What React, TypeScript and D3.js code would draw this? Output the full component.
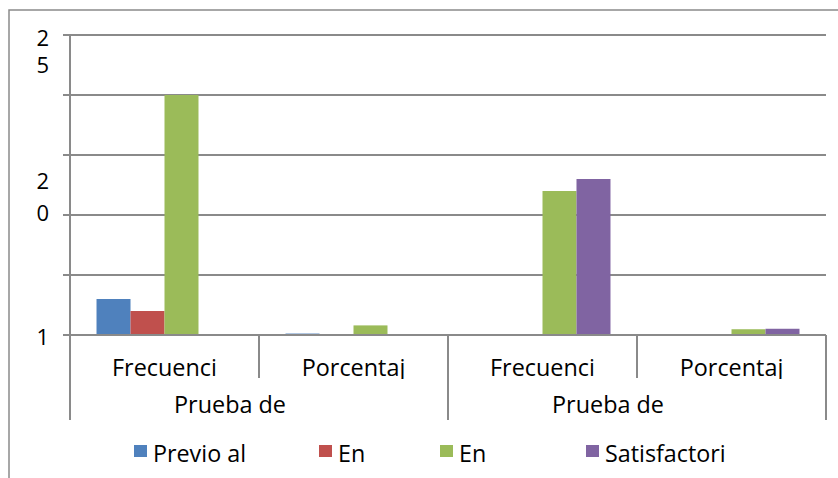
import React, { useEffect, useRef } from "react";
import * as d3 from "d3";

const categories = ["Frecuenci", "Porcentaj", "Frecuenci", "Porcentaj"];
const groups = ["Prueba de", "Prueba de"];
const seriesNames = ["Previo al", "En", "En", "Satisfactori"];
const previoAl = [3, 0.12, 0, 0];
const enProceso = [2, 0.08, 0, 0];
const enLogro = [20, 0.8, 12, 0.48];
const satisfactorio = [0, 0, 13, 0.52];
const yTicks = [0, 5, 10, 15, 20, 25];
// what Excel actually shows next to the ticks (wrapped / clipped)
const yTickLabels = [
  { value: 25, lines: ["2", "5"] },
  { value: 10, lines: ["2", "0"] },
  { value: 0, lines: ["1"] },
];

const colors = ["#4f81bd", "#c0504d", "#9bbb59", "#8064a2"];

const App = () => {
  const ref = useRef<SVGSVGElement>(null);
  const width = 838;
  const height = 478;

  useEffect(() => {
    const svg = d3.select(ref.current);
    svg.selectAll("*").remove();

    const font = "'Open Sans', sans-serif";
    const grid = "#8a8a8a";
    const left = 70;
    const right = 826;
    const top = 35;
    const bottom = 335;

    const values = [previoAl, enProceso, enLogro, satisfactorio];

    const y = d3.scaleLinear().domain([0, 25]).range([bottom, top]);
    const x0 = d3
      .scaleBand<number>()
      .domain(categories.map((_, i) => i))
      .range([left, right])
      .padding(0);
    const x1 = d3
      .scaleBand<number>()
      .domain(seriesNames.map((_, i) => i))
      .range([0, x0.bandwidth()])
      .paddingInner(0)
      .paddingOuter(0.78);
    const xg = d3
      .scaleBand<number>()
      .domain(groups.map((_, i) => i))
      .range([left, right]);

    // outer chart border (clipped by the window)
    svg
      .append("path")
      .attr("d", `M9,${height + 2}V10H${width + 2}`)
      .attr("fill", "none")
      .attr("stroke", grid)
      .attr("stroke-width", 1.5);

    // gridlines + tick marks
    svg
      .append("g")
      .selectAll("line")
      .data(yTicks)
      .join("line")
      .attr("x1", left - 7)
      .attr("x2", right)
      .attr("y1", (d) => y(d))
      .attr("y2", (d) => y(d))
      .attr("stroke", grid)
      .attr("stroke-width", 2);

    // y labels
    const yl = svg.append("g").attr("font-family", font).attr("font-size", 22).attr("fill", "#000");
    yTickLabels.forEach((t) => {
      const offsets = t.lines.length === 1 ? [10] : t.value === 25 ? [11, 38] : [-26, 6];
      t.lines.forEach((ln, i) => {
        yl.append("text")
          .attr("x", 49)
          .attr("y", y(t.value) + offsets[i])
          .attr("text-anchor", "end")
          .text(ln);
      });
    });

    // bars
    const bars = svg.append("g");
    categories.forEach((_, ci) => {
      values.forEach((vals, si) => {
        const v = vals[ci];
        if (!v) return;
        bars
          .append("rect")
          .attr("x", (x0(ci) ?? 0) + (x1(si) ?? 0))
          .attr("y", y(v))
          .attr("width", x1.bandwidth())
          .attr("height", y(0) - y(v))
          .attr("fill", colors[si]);
      });
    });

    // axes lines
    svg
      .append("line")
      .attr("x1", left)
      .attr("x2", left)
      .attr("y1", top)
      .attr("y2", 420)
      .attr("stroke", grid)
      .attr("stroke-width", 2);

    svg
      .append("line")
      .attr("x1", left - 7)
      .attr("x2", right)
      .attr("y1", bottom)
      .attr("y2", bottom)
      .attr("stroke", grid)
      .attr("stroke-width", 2);

    // category separators
    const seps = svg.append("g");
    d3.range(categories.length + 1).forEach((i) => {
      const xx = left + i * x0.step();
      const isGroup = i % 2 === 0;
      seps
        .append("line")
        .attr("x1", xx)
        .attr("x2", xx)
        .attr("y1", bottom)
        .attr("y2", isGroup ? 420 : 378)
        .attr("stroke", grid)
        .attr("stroke-width", 2);
    });

    // category labels, clipped like the original
    svg
      .append("clipPath")
      .attr("id", "catclip")
      .append("rect")
      .attr("x", left)
      .attr("y", bottom)
      .attr("width", right - left)
      .attr("height", 44);

    svg
      .append("g")
      .attr("clip-path", "url(#catclip)")
      .attr("font-family", font)
      .attr("font-size", 23.4)
      .selectAll("text")
      .data(categories)
      .join("text")
      .attr("x", (_, i) => (x0(i) ?? 0) + x0.bandwidth() / 2)
      .attr("y", 376)
      .attr("text-anchor", "middle")
      .text((d) => d);

    svg
      .append("g")
      .attr("font-family", font)
      .attr("font-size", 23.4)
      .selectAll("text")
      .data(groups)
      .join("text")
      .attr("x", (_, i) => (xg(i) ?? 0) + xg.bandwidth() / 2 - 29)
      .attr("y", 413)
      .attr("text-anchor", "middle")
      .text((d) => d);

    // legend
    const legendX = [134, 319, 440, 586];
    const lg = svg.append("g").attr("font-family", font).attr("font-size", 23.3);
    seriesNames.forEach((name, i) => {
      lg.append("rect")
        .attr("x", legendX[i])
        .attr("y", 445)
        .attr("width", 13)
        .attr("height", 12)
        .attr("fill", colors[i]);
      lg.append("text")
        .attr("x", legendX[i] + 19)
        .attr("y", 462)
        .text(name);
    });
  }, []);

  return (
    <svg
      ref={ref}
      width={width}
      height={height}
      style={{ position: "absolute", left: 0, top: 0, background: "#fff" }}
    />
  );
};

export default App;
